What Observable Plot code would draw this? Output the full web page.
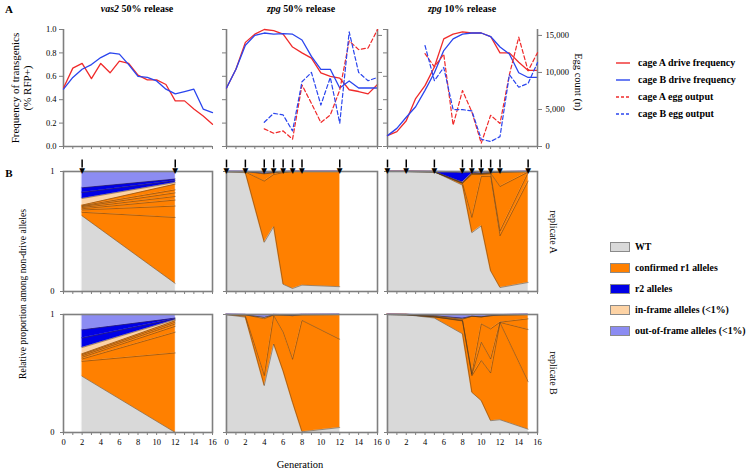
<!DOCTYPE html>
<html><head><meta charset="utf-8">
<script src="https://cdn.jsdelivr.net/npm/d3@7"></script>
<script src="https://cdn.jsdelivr.net/npm/@observablehq/plot@0.6"></script>
<style>
body{margin:0;background:#fff;}
#fig{position:relative;width:749px;height:472px;font-family:"Liberation Serif","Times New Roman",serif;overflow:hidden;background:#fff;}
.lbl{position:absolute;white-space:nowrap;color:#000;line-height:1;}
</style></head><body><div id="fig"></div>
<script>
// ---------- DATA ----------
const genList = [0,1,2,3,4,5,6,7,8,9,10,11,12,13,14,15,16];
const freqTicks = [0,0.2,0.4,0.6,0.8,1.0];
const eggTicks = [0,5000,10000,15000];
const EGG_MAX = 15800;

// panel A: drive frequency (fraction RFP+)
const vas2_cageA = [0.50,0.67,0.71,0.58,0.71,0.63,0.73,0.71,0.61,0.57,0.57,0.53,0.39,0.39,0.32,0.26,0.19];
const vas2_cageB = [0.49,0.59,0.66,0.70,0.76,0.80,0.79,0.70,0.60,0.59,0.56,0.49,0.45,0.47,0.49,0.32,0.29];
const zpg50_cageA = [0.50,0.66,0.89,0.96,1.00,0.99,0.96,0.85,0.80,0.755,0.63,0.60,0.585,0.485,0.47,0.45,0.53];
const zpg50_cageB = [0.50,0.66,0.865,0.95,0.97,0.96,0.965,0.96,0.91,0.77,0.66,0.66,0.50,0.56,0.50,0.50,0.50];
const zpg10_cageA = [0.093,0.127,0.22,0.41,0.52,0.68,0.92,0.96,0.98,0.97,0.97,0.94,0.80,0.80,0.72,0.65,0.65];
const zpg10_cageB = [0.093,0.155,0.25,0.34,0.48,0.63,0.82,0.92,0.96,0.97,0.97,0.94,0.85,0.79,0.63,0.59,0.59];
// egg output (n)
const zpg50_eggA = [null,null,null,null,2380,1790,2100,990,8300,5830,3230,4260,7620,14260,13090,13300,15780];
const zpg50_eggB = [null,null,null,null,3270,4480,4260,2100,8740,10000,5600,9330,3140,15470,10000,8880,9330];
const zpg10_eggA = [null,null,null,null,12530,10760,12440,2890,7560,4670,440,4220,3110,9690,14760,10220,12670];
const zpg10_eggB = [null,null,null,null,13640,8890,10670,4980,4980,4800,980,670,1330,9690,8000,8530,11330];

// panel B: allele proportions among non-drive alleles (layer thickness, bottom to top)
const vas2A_gens = [2,12];
const vas2A_WT = [0.63,0.067];
const vas2A_r1 = [[0.03,0.55],[0.02,0.095],[0.01,0.05],[0.01,0.03],[0.008,0.03],[0.006,0.025],[0.006,0.048]];
const vas2A_inframe = [0.055,0.013];
const vas2A_r2 = [[0.05,0.015],[0.04,0.015]];
const vas2A_oof = [0.135,0.062];
const vas2A_arrows = [2,12];

const vas2B_gens = [2,12];
const vas2B_WT = [0.476,0.0];
const vas2B_r1 = [[0.127,0.674],[0.02,0.176],[0.015,0.05],[0.012,0.02],[0.01,0.015],[0.008,0.013]];
const vas2B_inframe = [0.052,0.008];
const vas2B_r2 = [[0.08,0.007],[0.07,0.007]];
const vas2B_oof = [0.13,0.03];

const zpg50A_gens = [0,2,4,5,6,7,8,12];
const zpg50A_WT = [0.995,0.99,0.41,0.54,0.06,0.025,0.053,0.04];
const zpg50A_r1 = [[0.003,0.006,0.51,0.435,0.93,0.975,0.947,0.96],[0.002,0.004,0.06,0.015,0.008,0,0,0]];
const zpg50A_inframe = [0,0,0.005,0.003,0,0,0,0];
const zpg50A_r2 = [[0,0,0,0,0,0,0,0]];
const zpg50A_oof = [0,0,0.015,0.007,0.002,0,0,0];
const zpg50A_arrows = [0,2,4,5,6,7,8,12];

const zpg50B_gens = [0,2,4,5,6,7,8,12];
const zpg50B_WT = [0.998,0.977,0.397,0.75,0.52,0.255,0.006,0.042];
const zpg50B_r1 = [[0.001,0.01,0.085,0.24,0.33,0.365,0.944,0.748],[0.001,0.01,0.483,0.005,0.145,0.37,0.048,0.21]];
const zpg50B_inframe = [0,0,0.01,0.002,0,0,0,0];
const zpg50B_r2 = [[0,0,0,0,0,0.005,0,0]];
const zpg50B_oof = [0,0.003,0.025,0.003,0.005,0.005,0.002,0];

const zpg10A_gens = [0,2,5,8,9,10,11,12,15];
const zpg10A_WT = [1,1,0.997,0.886,0.49,0.547,0.172,0.033,0.075];
const zpg10A_r1 = [[0,0,0,0.014,0.127,0.411,0.788,0.431,0.845],[0,0,0,0.003,0.358,0.017,0.02,0.04,0.07],[0,0,0,0.002,0.005,0.005,0.005,0.371,0.005],[0,0,0,0,0.005,0.005,0.005,0.12,0.005]];
const zpg10A_inframe = [0,0,0,0.005,0,0,0,0,0];
const zpg10A_r2 = [[0,0,0.003,0.08,0.01,0,0,0,0]];
const zpg10A_oof = [0,0,0,0.01,0.005,0.015,0.01,0.005,0];
const zpg10A_arrows = [0,2,5,8,9,10,11,12,15];

const zpg10B_gens = [0,2,5,8,9,10,11,12,15];
const zpg10B_WT = [1,0.998,0.97,0.836,0.34,0.27,0.1,0.108,0.028];
const zpg10B_r1 = [[0,0,0.01,0.109,0.14,0.34,0.404,0.822,0.402],[0,0,0,0.003,0.01,0.155,0.119,0.003,0.443],[0,0,0,0.002,0.005,0.155,0.255,0.002,0.09],[0,0,0.005,0.01,0.49,0.06,0.112,0.06,0.037]];
const zpg10B_inframe = [0,0,0.005,0.004,0,0,0,0,0];
const zpg10B_r2 = [[0,0,0,0.006,0,0,0,0,0]];
const zpg10B_oof = [0,0.002,0.01,0.03,0.015,0.02,0.01,0.005,0];

const catNames = ["WT","confirmed r1 alleles","r2 alleles","in-frame alleles (<1%)","out-of-frame alleles (<1%)"];
const catColors = ["#d9d9d9","#ff8000","#0000e6","#fdd3a5","#8c8cf2"];
const lineLegend = ["cage A drive frequency","cage B drive frequency","cage A egg output","cage B egg output"];

// ---------- STYLE / LAYOUT ----------
const FRAME = "#7f7f7f", RED = "#f02a2a", BLUE = "#2a45ee", SEP = "#4a3520";
const colX = [[63,212],[226,377],[387,537]];
const topY = [29,146];
const rowY = [[171,291],[314,432]];
const fig = document.getElementById("fig");
const pstyle = {background:"transparent", fontFamily:"'Liberation Serif', serif", fontSize:"8.5px", color:"#000", overflow:"visible"};
const catColor = Object.fromEntries(catNames.map((c,i)=>[c,catColors[i]]));

function place(el, left, top){ el.style.position="absolute"; el.style.left=left+"px"; el.style.top=top+"px"; fig.appendChild(el); }
function box(col, yr, m){
  const [x0,x1]=colX[col], [y0,y1]=yr;
  return {width:x1-x0+m.l+m.r, height:y1-y0+m.t+m.b, marginLeft:m.l, marginRight:m.r, marginTop:m.t, marginBottom:m.b, left:x0-m.l, top:y0-m.t};
}
function series(vals){ return genList.map((g,i)=>({gen:g, v:vals[i]})).filter(d=>d.v!=null); }
function label(html, x, y, {size=11, bold=false, rot=0, anchor="center"}={}){
  const d=document.createElement("div"); d.className="lbl"; d.innerHTML=html;
  d.style.fontSize=size+"px"; if(bold) d.style.fontWeight="bold";
  d.style.left=x+"px"; d.style.top=y+"px";
  let tr = anchor==="center" ? "translate(-50%,-50%)" : "translate(0,-50%)";
  if(rot) tr += ` rotate(${rot}deg)`;
  d.style.transform=tr; d.style.textAlign="center";
  fig.appendChild(d); return d;
}

// ---------- TOP PANELS ----------
function topPanel(col, a, b, eggA, eggB){
  const bx = box(col, topY, {l:30,r:42,t:6,b:8});
  const common = {width:bx.width, height:bx.height, marginLeft:bx.marginLeft, marginRight:bx.marginRight, marginTop:bx.marginTop, marginBottom:bx.marginBottom, style:pstyle};
  const f = Plot.plot({...common,
    x:{domain:[0,16], label:null}, y:{domain:[0,1], label:null},
    marks:[
      Plot.axisX({ticks:genList, tickSize:3, tickFormat:()=>"", stroke:FRAME, label:null}),
      Plot.axisY({ticks:freqTicks, tickSize:4, tickPadding:3, tickFormat: col===0 ? d3.format(".1f") : ()=>"", stroke:FRAME, label:null}),
      Plot.ruleY([0],{stroke:FRAME, strokeWidth:1.6}),
      Plot.ruleX([0],{stroke:FRAME, strokeWidth:1.6}),
      Plot.line(series(a),{x:"gen", y:"v", stroke:RED, strokeWidth:1.3}),
      Plot.line(series(b),{x:"gen", y:"v", stroke:BLUE, strokeWidth:1.3})
    ]});
  place(f, bx.left, bx.top);
  if(eggA){
    const e = Plot.plot({...common,
      x:{domain:[0,16], axis:null}, y:{domain:[0,EGG_MAX], label:null},
      marks:[
        Plot.axisY({anchor:"right", ticks:eggTicks, tickSize:4, tickPadding:4, tickFormat: col===2 ? d3.format(",") : ()=>"", stroke:FRAME, label:null}),
        Plot.ruleX([16],{stroke:FRAME, strokeWidth:1.6}),
        Plot.line(series(eggA),{x:"gen", y:"v", stroke:RED, strokeWidth:1.2, strokeDasharray:"4,2.5"}),
        Plot.line(series(eggB),{x:"gen", y:"v", stroke:BLUE, strokeWidth:1.2, strokeDasharray:"4,2.5"})
      ]});
    place(e, bx.left, bx.top);
  }
}
topPanel(0, vas2_cageA, vas2_cageB, null, null);
topPanel(1, zpg50_cageA, zpg50_cageB, zpg50_eggA, zpg50_eggB);
topPanel(2, zpg10_cageA, zpg10_cageB, zpg10_eggA, zpg10_eggB);

// ---------- BOTTOM PANELS ----------
function bottomPanel(col, row, gens, WT, r1, inframe, r2, oof, arrows){
  const rows=[];
  const add=(name,cat,vals)=>gens.forEach((g,i)=>rows.push({gen:g, layer:name, cat, v:vals[i]}));
  add("WT","WT",WT);
  r1.forEach((v,k)=>add("r1_"+k,"confirmed r1 alleles",v));
  add("inframe","in-frame alleles (<1%)",inframe);
  r2.forEach((v,k)=>add("r2_"+k,"r2 alleles",v));
  add("oof","out-of-frame alleles (<1%)",oof);
  const bx = box(col, rowY[row], {l:30,r:20,t:14,b:22});
  const p = Plot.plot({width:bx.width, height:bx.height, marginLeft:bx.marginLeft, marginRight:bx.marginRight, marginTop:bx.marginTop, marginBottom:bx.marginBottom, style:pstyle,
    x:{domain:[0,16], label:null}, y:{domain:[0,1], label:null}, color:{type:"identity"},
    marks:[
      Plot.areaY(rows,{x:"gen", y:"v", z:"layer", fill:d=>catColor[d.cat], stroke:d=>catColor[d.cat], strokeWidth:0.3}),
      Plot.lineY(rows, Plot.stackY2({x:"gen", y:"v", z:"layer", stroke:SEP, strokeWidth:0.55, strokeOpacity:0.85})),
      Plot.frame({stroke:FRAME, strokeWidth:1.6}),
      Plot.axisY({ticks:[0,1], tickSize:3, tickPadding:6, tickFormat: col===0 ? d=>String(d) : ()=>"", stroke:FRAME, label:null}),
      Plot.axisX({ticks:genList, tickSize:3, tickPadding:3, tickFormat: row===1 ? (d=> d%2===0 ? String(d) : "") : ()=>"", stroke:FRAME, label:null}),
      arrows ? Plot.ruleX(arrows,{x:d=>d, y1:1.095, y2:1.03, stroke:"#000", strokeWidth:1.5}) : null,
      arrows ? Plot.text(arrows,{x:d=>d, y:1.0, text:()=>"\u25BC", lineAnchor:"bottom", dy:1, fontSize:7.5, fontFamily:"DejaVu Sans", fill:"#000"}) : null
    ]});
  place(p, bx.left, bx.top);
}
bottomPanel(0,0,vas2A_gens,vas2A_WT,vas2A_r1,vas2A_inframe,vas2A_r2,vas2A_oof,vas2A_arrows);
bottomPanel(1,0,zpg50A_gens,zpg50A_WT,zpg50A_r1,zpg50A_inframe,zpg50A_r2,zpg50A_oof,zpg50A_arrows);
bottomPanel(2,0,zpg10A_gens,zpg10A_WT,zpg10A_r1,zpg10A_inframe,zpg10A_r2,zpg10A_oof,zpg10A_arrows);
bottomPanel(0,1,vas2B_gens,vas2B_WT,vas2B_r1,vas2B_inframe,vas2B_r2,vas2B_oof,null);
bottomPanel(1,1,zpg50B_gens,zpg50B_WT,zpg50B_r1,zpg50B_inframe,zpg50B_r2,zpg50B_oof,null);
bottomPanel(2,1,zpg10B_gens,zpg10B_WT,zpg10B_r1,zpg10B_inframe,zpg10B_r2,zpg10B_oof,null);

// ---------- TEXT ----------
label("A", 9, 9, {size:11, bold:true});
label("B", 9, 173, {size:11, bold:true});
label("<i>vas2</i> 50% release", 137, 9, {size:10, bold:true});
label("<i>zpg</i> 50% release", 301, 9, {size:10, bold:true});
label("<i>zpg</i> 10% release", 462, 9, {size:10, bold:true});
const yt = label("Frequency of transgenics<br>(% RFP+)", 22, 88, {size:11, rot:-90}); yt.style.lineHeight="1.05";
label("Egg count (n)", 578, 82, {size:10.5, rot:90});
label("Relative proportion among non-drive alleles", 23, 294, {size:9.6, rot:-90});
label("replicate A", 553, 232, {size:10, rot:90});
label("replicate B", 553, 373, {size:10, rot:90});
label("Generation", 300, 465, {size:10.5});

// legend A (lines)
const legAy = [63,80,97,114];
lineLegend.forEach((t,i)=>{
  const s=document.createElementNS("http://www.w3.org/2000/svg","svg");
  s.setAttribute("width",16); s.setAttribute("height",6);
  const l=document.createElementNS("http://www.w3.org/2000/svg","line");
  l.setAttribute("x1",1); l.setAttribute("x2",15); l.setAttribute("y1",3); l.setAttribute("y2",3);
  l.setAttribute("stroke", i%2===0 ? RED : BLUE); l.setAttribute("stroke-width",1.4);
  if(i>=2) l.setAttribute("stroke-dasharray","3,2");
  s.appendChild(l); place(s, 615, legAy[i]-3);
  label(t, 638, legAy[i], {size:10, bold:true, anchor:"left"});
});
// legend B (swatches)
const legBy = [247,268,289,310,331];
catNames.forEach((c,i)=>{
  const d=document.createElement("div");
  d.style.width="18px"; d.style.height="8px"; d.style.background=catColors[i]; d.style.border="1px solid #8a8a8a";
  place(d, 610, legBy[i]-5);
  label(c, 635, legBy[i], {size:9.8, bold:true, anchor:"left"});
});
</script>
</body></html>
